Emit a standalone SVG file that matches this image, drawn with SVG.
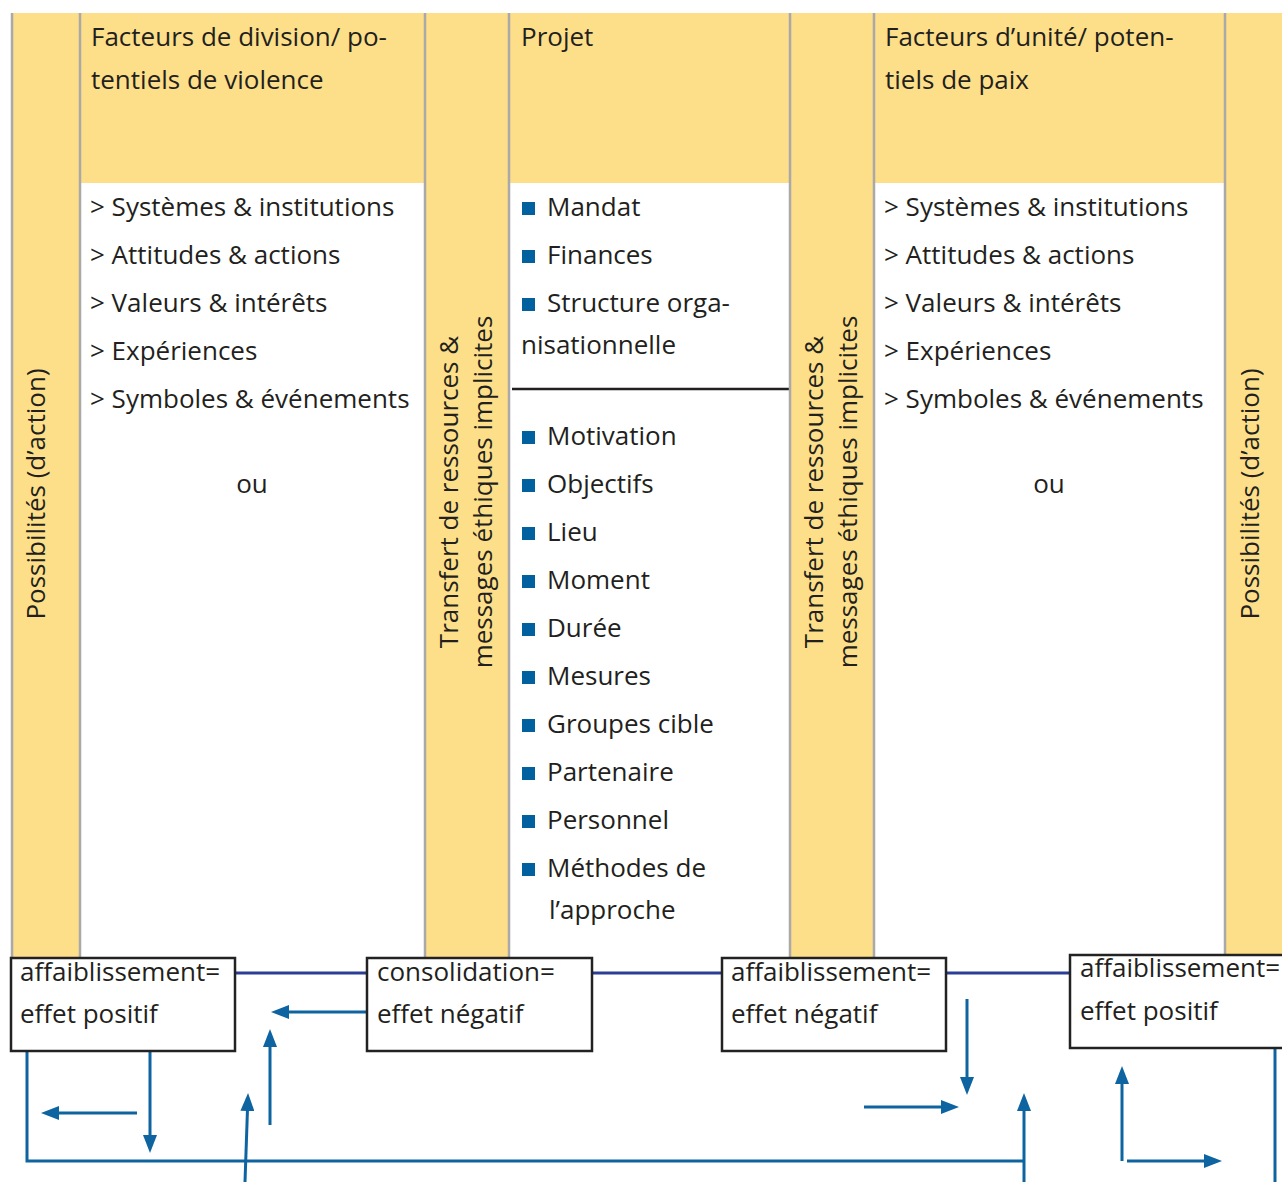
<svg xmlns="http://www.w3.org/2000/svg" width="1282" height="1182" viewBox="0 0 1282 1182">
<defs>
<style>
.t{font-family:"Open Sans","Noto Sans","Liberation Sans",sans-serif;font-size:26px;fill:#231f20}
.ctr{text-anchor:middle}
.yel{fill:#fedf89}
.wht{fill:#ffffff}
.sep{stroke:#a9a9a9;stroke-width:2.5}
.box{fill:#ffffff;stroke:#222222;stroke-width:2.5}
.sq{fill:#00619e}
.nav{stroke:#2b3e95;stroke-width:3;fill:none}
.arr{stroke:#0d64a0;stroke-width:3;fill:none}
.arrh{stroke:#0d64a0;stroke-width:3;fill:none;marker-end:url(#ah)}
</style>
<marker id="ah" viewBox="0 0 18 14" refX="8" refY="7" markerWidth="18" markerHeight="14" markerUnits="userSpaceOnUse" orient="auto">
<path d="M0,0 L18,7 L0,14 z" fill="#0d64a0"/>
</marker>
</defs>
<rect width="1282" height="1182" fill="#ffffff"/>

<g id="col-possibilites-left">
<rect class="yel" x="11" y="13" width="69" height="944"/>
<text class="t ctr" transform="translate(45,494) rotate(-90)">Possibilités (d’action)</text>
</g>

<g id="col-division">
<rect class="yel" x="80" y="13" width="345" height="170"/>
<rect class="wht" x="80" y="183" width="345" height="774"/>
<text class="t" x="91" y="46">Facteurs de division/ po-</text>
<text class="t" x="91" y="89">tentiels de violence</text>
<text class="t" x="90" y="216">&gt; Systèmes &amp; institutions</text>
<text class="t" x="90" y="264">&gt; Attitudes &amp; actions</text>
<text class="t" x="90" y="312">&gt; Valeurs &amp; intérêts</text>
<text class="t" x="90" y="360">&gt; Expériences</text>
<text class="t" x="90" y="408">&gt; Symboles &amp; événements</text>
<text class="t ctr" x="252" y="493">ou</text>
</g>

<g id="col-transfert-1">
<rect class="yel" x="425" y="13" width="84" height="944"/>
<text class="t ctr" transform="translate(458,492) rotate(-90)">Transfert de ressources &amp;</text>
<text class="t ctr" transform="translate(492,492) rotate(-90)">messages éthiques implicites</text>
</g>

<g id="col-projet">
<rect class="yel" x="509" y="13" width="281" height="170"/>
<rect class="wht" x="509" y="183" width="281" height="774"/>
<text class="t" x="521" y="46">Projet</text>
<rect class="sq" x="522" y="202" width="13" height="13"/>
<text class="t" x="547" y="216">Mandat</text>
<rect class="sq" x="522" y="250" width="13" height="13"/>
<text class="t" x="547" y="264">Finances</text>
<rect class="sq" x="522" y="298" width="13" height="13"/>
<text class="t" x="547" y="312">Structure orga-</text>
<text class="t" x="521" y="354">nisationnelle</text>
<line x1="512" y1="389" x2="793" y2="389" stroke="#231f20" stroke-width="2.5"/>
<rect class="sq" x="522" y="431" width="13" height="13"/>
<text class="t" x="547" y="445">Motivation</text>
<rect class="sq" x="522" y="479" width="13" height="13"/>
<text class="t" x="547" y="493">Objectifs</text>
<rect class="sq" x="522" y="527" width="13" height="13"/>
<text class="t" x="547" y="541">Lieu</text>
<rect class="sq" x="522" y="575" width="13" height="13"/>
<text class="t" x="547" y="589">Moment</text>
<rect class="sq" x="522" y="623" width="13" height="13"/>
<text class="t" x="547" y="637">Durée</text>
<rect class="sq" x="522" y="671" width="13" height="13"/>
<text class="t" x="547" y="685">Mesures</text>
<rect class="sq" x="522" y="719" width="13" height="13"/>
<text class="t" x="547" y="733">Groupes cible</text>
<rect class="sq" x="522" y="767" width="13" height="13"/>
<text class="t" x="547" y="781">Partenaire</text>
<rect class="sq" x="522" y="815" width="13" height="13"/>
<text class="t" x="547" y="829">Personnel</text>
<rect class="sq" x="522" y="863" width="13" height="13"/>
<text class="t" x="547" y="877">Méthodes de</text>
<text class="t" x="549" y="919">l’approche</text>
</g>

<g id="col-transfert-2">
<rect class="yel" x="790" y="13" width="84" height="944"/>
<text class="t ctr" transform="translate(823,492) rotate(-90)">Transfert de ressources &amp;</text>
<text class="t ctr" transform="translate(857,492) rotate(-90)">messages éthiques implicites</text>
</g>

<g id="col-unite">
<rect class="yel" x="874" y="13" width="351" height="170"/>
<rect class="wht" x="874" y="183" width="351" height="774"/>
<text class="t" x="885" y="46">Facteurs d’unité/ poten-</text>
<text class="t" x="885" y="89">tiels de paix</text>
<text class="t" x="884" y="216">&gt; Systèmes &amp; institutions</text>
<text class="t" x="884" y="264">&gt; Attitudes &amp; actions</text>
<text class="t" x="884" y="312">&gt; Valeurs &amp; intérêts</text>
<text class="t" x="884" y="360">&gt; Expériences</text>
<text class="t" x="884" y="408">&gt; Symboles &amp; événements</text>
<text class="t ctr" x="1049" y="493">ou</text>
</g>

<g id="col-possibilites-right">
<rect class="yel" x="1225" y="13" width="57" height="944"/>
<text class="t ctr" transform="translate(1259,494) rotate(-90)">Possibilités (d’action)</text>
</g>

<g id="separators">
<line class="sep" x1="12" y1="13" x2="12" y2="957"/>
<line class="sep" x1="80" y1="13" x2="80" y2="957"/>
<line class="sep" x1="425" y1="13" x2="425" y2="957"/>
<line class="sep" x1="509" y1="13" x2="509" y2="957"/>
<line class="sep" x1="790" y1="13" x2="790" y2="957"/>
<line class="sep" x1="874" y1="13" x2="874" y2="957"/>
<line class="sep" x1="1225" y1="13" x2="1225" y2="957"/>
</g>

<g id="connectors">
<line class="nav" x1="235" y1="973" x2="367" y2="973"/>
<line class="nav" x1="592" y1="973" x2="722" y2="973"/>
<line class="nav" x1="946" y1="973" x2="1070" y2="973"/>
<polyline class="arr" points="27,1051 27,1161 1024,1161"/>
<line class="arr" x1="1275" y1="1048" x2="1275" y2="1182"/>
<line class="arrh" x1="150" y1="1051" x2="150" y2="1143"/>
<line class="arrh" x1="137" y1="1113" x2="51" y2="1113"/>
<line class="arrh" x1="270" y1="1125" x2="270" y2="1039"/>
<line class="arrh" x1="367" y1="1012" x2="281" y2="1012"/>
<line class="arrh" x1="245" y1="1182" x2="247.7" y2="1103"/>
<line class="arrh" x1="967" y1="999" x2="967" y2="1085"/>
<line class="arrh" x1="864" y1="1107" x2="949" y2="1107"/>
<line class="arrh" x1="1024" y1="1182" x2="1024" y2="1103"/>
<line class="arrh" x1="1122" y1="1161" x2="1122" y2="1076"/>
<line class="arrh" x1="1127" y1="1161" x2="1212" y2="1161"/>
</g>

<g id="box-1">
<rect class="box" x="11" y="958" width="224" height="93"/>
<text class="t" x="20" y="981">affaiblissement=</text>
<text class="t" x="20" y="1023">effet positif</text>
</g>
<g id="box-2">
<rect class="box" x="367" y="958" width="225" height="93"/>
<text class="t" x="377" y="981">consolidation=</text>
<text class="t" x="377" y="1023">effet négatif</text>
</g>
<g id="box-3">
<rect class="box" x="722" y="958" width="224" height="93"/>
<text class="t" x="731" y="981">affaiblissement=</text>
<text class="t" x="731" y="1023">effet négatif</text>
</g>
<g id="box-4">
<rect class="box" x="1070" y="955" width="224" height="93"/>
<text class="t" x="1080" y="977">affaiblissement=</text>
<text class="t" x="1080" y="1020">effet positif</text>
</g>
</svg>
